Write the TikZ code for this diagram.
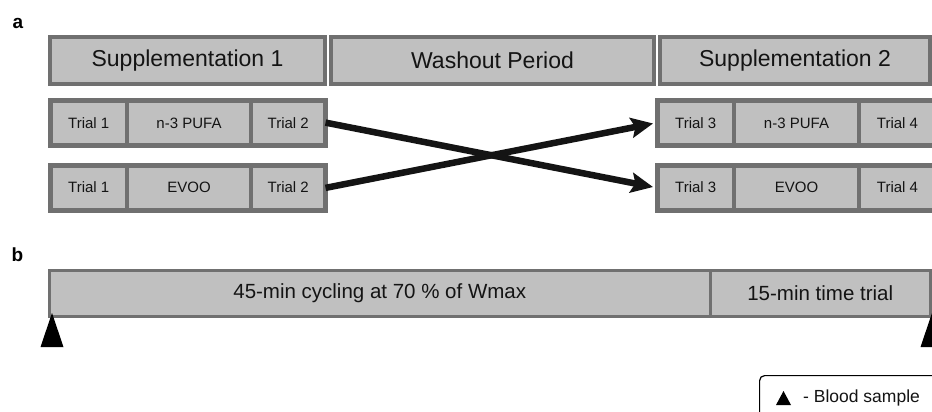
\documentclass[tikz,border=0pt]{standalone}
\usepackage{fontspec}
\setmainfont{Liberation Sans}
\usetikzlibrary{arrows.meta}
\definecolor{cellfill}{RGB}{192,192,192}
\definecolor{celledge}{RGB}{112,112,112}
\definecolor{ink}{RGB}{20,20,20}
\tikzset{
  phase/.style={draw=celledge, fill=cellfill, line width=4pt, inner sep=0pt,
    minimum height=47pt, text=ink, font=\fontsize{23}{27}\selectfont},
  cell/.style={draw=celledge, fill=cellfill, line width=4pt, inner sep=0pt,
    minimum height=45pt, text=ink, font=\fontsize{15}{18}\selectfont},
  rowframe/.style={draw=celledge, line width=5pt},
  stage/.style={draw=celledge, fill=cellfill, line width=3pt, inner sep=0pt,
    minimum height=46pt, text=ink, font=\fontsize{20.5}{24}\selectfont},
  crossarrow/.style={line width=6.5pt, ink, -{Stealth[length=22pt,width=20pt,inset=4pt]}},
  panellabel/.style={inner sep=0pt, font=\bfseries\fontsize{19}{22}\selectfont},
  keybox/.style={draw=black, line width=1.2pt, rounded corners=5pt, inner sep=0pt},
  sample/.style={fill=black}
}
\begin{document}
\begin{tikzpicture}[x=1pt, y=-1pt]
\useasboundingbox[fill=white] (0,0) rectangle (932,412);

% panel labels
\node[panellabel] (la) at (18,23.5) {a};
\node[panellabel] (lb) at (17.5,255) {b};

% a: study periods
\node[phase, minimum width=275pt] (s1) at (187.5,60.5) {Supplementation 1};
\node[phase, minimum width=323pt] (wo) at (492.5,60.5) {Washout Period};
\node[phase, minimum width=270pt] (s2) at (795,60.5) {Supplementation 2};

% a: first supplementation, two arms
\node[cell, minimum width=76.5pt] (t1a) at (88.75,123) {Trial 1};
\node[cell, minimum width=124pt]  (pa)  at (189,123)   {n-3 PUFA};
\node[cell, minimum width=74.5pt] (t2a) at (288.25,123) {Trial 2};
\draw[rowframe] (50.5,100.5) rectangle (325.5,145.5);

\node[cell, minimum width=76.5pt] (t1b) at (88.75,187.5) {Trial 1};
\node[cell, minimum width=124pt]  (eb)  at (189,187.5)   {EVOO};
\node[cell, minimum width=74.5pt] (t2b) at (288.25,187.5) {Trial 2};
\draw[rowframe] (50.5,165) rectangle (325.5,210);

% a: second supplementation, two arms
\node[cell, minimum width=76.5pt] (t3a) at (695.75,123) {Trial 3};
\node[cell, minimum width=125pt]  (pc)  at (796.5,123)  {n-3 PUFA};
\node[cell, minimum width=77pt]   (t4a) at (897.5,123)  {Trial 4};
\draw[rowframe] (657.5,100.5) rectangle (936,145.5);

\node[cell, minimum width=76.5pt] (t3b) at (695.75,187.5) {Trial 3};
\node[cell, minimum width=125pt]  (ec)  at (796.5,187.5)  {EVOO};
\node[cell, minimum width=77pt]   (t4b) at (897.5,187.5)  {Trial 4};
\draw[rowframe] (657.5,165) rectangle (936,210);

% a: crossover
\draw[crossarrow, shorten <=-2pt, shorten >=2.5pt] (t2a.east) -- (t3b.west);
\draw[crossarrow, shorten <=-2pt, shorten >=2.5pt] (t2b.east) -- (t3a.west);

% b: trial protocol
\node[stage, minimum width=660.5pt] (cyc) at (379.75,293.5) {45-min cycling at 70 \% of Wmax};
\node[stage, minimum width=220.5pt] (tt)  at (820.25,293.5) {15-min time trial};

% b: blood samples
\fill[sample] (52,313) -- (63.5,347) -- (40.5,347) -- cycle;
\fill[sample] (932,313) -- (943.5,347) -- (920.5,347) -- cycle;

% key
\node[keybox, anchor=north west, minimum width=200pt, minimum height=60pt] (key) at (759,375) {};
\fill[sample] (783.5,391) -- (791,405) -- (776,405) -- cycle;
\node[anchor=west, inner sep=0pt, text=ink, font=\fontsize{17.5}{21}\selectfont] (keytxt) at (803,398) {- Blood sample};
\end{tikzpicture}
\end{document}
